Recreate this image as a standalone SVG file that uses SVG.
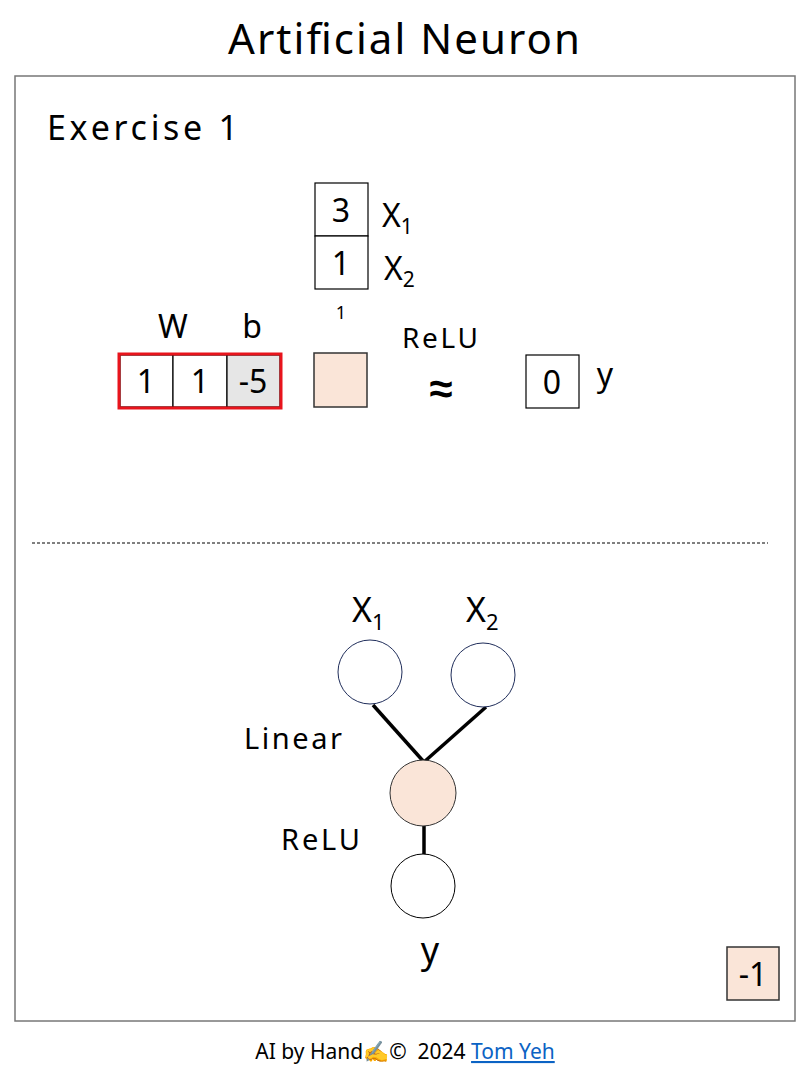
<svg xmlns="http://www.w3.org/2000/svg" width="810" height="1080" viewBox="0 0 810 1080">
<style>
  text { font-family: "Noto Sans", "Liberation Sans", sans-serif; fill: #000; }
  .hand { font-size: 32px; }
  .num { font-size: 32px; text-anchor: middle; }
  .cell { fill: #fff; stroke: #000; stroke-width: 1.2; }
  .peach { fill: #fae5d8; stroke: #333; stroke-width: 1.5; }
  .node { fill: #fff; stroke: #1f2d5a; stroke-width: 1; }
  .edge { stroke: #000; stroke-width: 3.5; fill: none; }
</style>
<rect width="810" height="1080" fill="#fff"/>
<text x="228" y="54" font-size="42" textLength="352" lengthAdjust="spacing">Artificial Neuron</text>
<rect x="15" y="76" width="780" height="945" fill="none" stroke="#777" stroke-width="1.5"/>
<text x="47" y="140" font-size="34" textLength="191" lengthAdjust="spacing">Exercise 1</text>

<g id="xvec">
  <rect class="cell" x="315" y="183" width="53" height="53"/>
  <rect class="cell" x="315" y="236" width="53" height="53"/>
  <text class="num" x="341" y="222">3</text>
  <text class="num" x="341" y="275">1</text>
  <text class="hand" x="382" y="227">X<tspan font-size="21" dy="7">1</tspan></text>
  <text class="hand" x="384" y="280">X<tspan font-size="21" dy="7">2</tspan></text>
  <text x="341" y="319" text-anchor="middle" font-size="18">1</text>
</g>

<g id="wb">
  <text class="hand" x="173" y="338" text-anchor="middle">W</text>
  <text class="hand" x="252" y="338" text-anchor="middle">b</text>
  <rect class="cell" x="120" y="355" width="53" height="52"/>
  <rect class="cell" x="173" y="355" width="54" height="52"/>
  <rect x="227" y="355" width="53" height="52" fill="#e6e6e6" stroke="#000" stroke-width="1.2"/>
  <rect x="119" y="354" width="162" height="54" fill="none" stroke="#e8141c" stroke-width="3"/>
  <text class="num" x="146" y="393">1</text>
  <text class="num" x="200" y="393">1</text>
  <text class="num" x="253" y="393">-5</text>
</g>

<g id="z">
  <rect class="peach" x="314" y="353" width="53" height="54"/>
</g>

<g id="relu">
  <text x="402" y="348" font-size="28" textLength="76" lengthAdjust="spacing">ReLU</text>
  <text x="441" y="403" text-anchor="middle" font-size="42" font-weight="bold">≈</text>
</g>

<g id="yout">
  <rect class="cell" x="526" y="355" width="53" height="53"/>
  <text class="num" x="552" y="394">0</text>
  <text class="hand" x="605" y="386" text-anchor="middle" font-size="34">y</text>
</g>

<line x1="32" y1="543" x2="768" y2="543" stroke="#000" stroke-width="1" stroke-dasharray="3,2"/>

<g id="connectors">
  <line class="edge" x1="373" y1="705" x2="424" y2="762"/>
  <line class="edge" x1="486" y1="707" x2="424" y2="762"/>
  <line class="edge" x1="424" y1="826" x2="424" y2="856"/>
</g>

<g id="n-x1">
  <circle class="node" cx="370" cy="672" r="32"/>
  <text x="352" y="622" font-size="34">X<tspan font-size="22" dy="8">1</tspan></text>
</g>
<g id="n-x2">
  <circle class="node" cx="483" cy="675" r="32"/>
  <text x="466" y="622" font-size="34">X<tspan font-size="22" dy="8">2</tspan></text>
</g>
<g id="n-h">
  <circle cx="423" cy="793" r="33" fill="#fae5d8" stroke="#333" stroke-width="1"/>
  <text x="244" y="749" font-size="29" textLength="98" lengthAdjust="spacing">Linear</text>
  <text x="281" y="850" font-size="29" textLength="79" lengthAdjust="spacing">ReLU</text>
</g>
<g id="n-y">
  <circle cx="423" cy="886" r="32" fill="#fff" stroke="#000" stroke-width="1"/>
  <text x="430" y="963" text-anchor="middle" font-size="36">y</text>
</g>

<g id="pagenum">
  <rect class="peach" x="727" y="947" width="52" height="53"/>
  <text class="num" x="753" y="986">-1</text>
</g>

<text x="405" y="1059" text-anchor="middle" font-size="21" xml:space="preserve">AI by Hand✍️©  2024 <tspan fill="#0b63c4" text-decoration="underline">Tom Yeh</tspan></text>
</svg>
